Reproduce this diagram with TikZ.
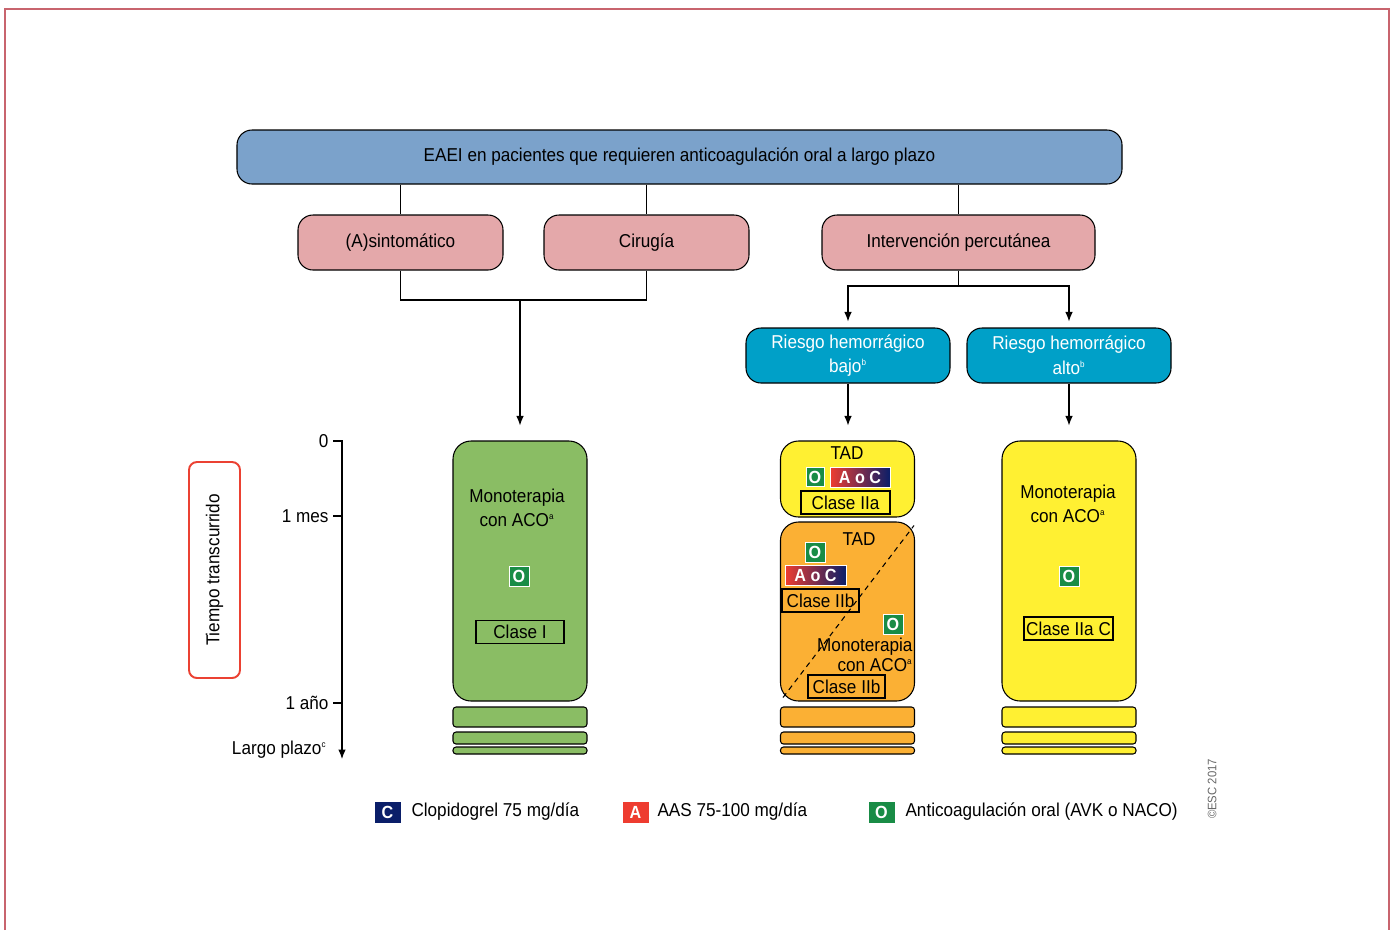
\documentclass[tikz,border=0pt]{standalone}
\usepackage{fontspec}
\setmainfont{Liberation Sans}[FakeStretch=0.92]
\usepackage{xcolor}
\usetikzlibrary{shapes,arrows,arrows.meta,positioning,calc}

\definecolor{topblue}{RGB}{123,162,203}
\definecolor{pinkbox}{RGB}{228,168,170}
\definecolor{riskblue}{RGB}{0,160,200}
\definecolor{greencol}{RGB}{138,189,100}
\definecolor{yellowcol}{RGB}{255,240,50}
\definecolor{orangecol}{RGB}{251,176,52}
\definecolor{navyC}{RGB}{10,30,105}
\definecolor{redA}{RGB}{238,60,48}
\definecolor{greenO}{RGB}{25,140,70}
\definecolor{framered}{RGB}{200,100,110}
\definecolor{timered}{RGB}{235,65,50}

\newcommand{\supr}[1]{\textsuperscript{\tiny #1}}

\tikzset{
  box/.style={draw, rounded corners=3mm, inner sep=0pt, align=center, line width=0.6pt},
  head/.style={box, fill=topblue, minimum width=177mm, minimum height=10.8mm},
  group/.style={box, fill=pinkbox, minimum width=41mm, minimum height=11mm},
  risk/.style={box, fill=riskblue, text=white, minimum width=40.8mm, minimum height=11mm},
  column/.style={draw, rounded corners=3.6mm, inner sep=0pt, minimum width=26.8mm, line width=0.6pt},
  stripe/.style={draw, rounded corners=0.6mm, inner sep=0pt, minimum width=26.8mm, line width=0.6pt},
  clase/.style={draw, inner sep=0pt, minimum height=4.6mm, line width=0.6pt},
  badge/.style={draw=white, line width=0.3pt, text=white, font=\bfseries, inner sep=0pt, minimum width=4mm, minimum height=4mm},
  keybadge/.style={badge, minimum width=5.4mm, minimum height=4.4mm},
  aoc/.style={badge, left color=redA, right color=navyC, minimum width=12mm},
  txt/.style={inner sep=0pt, align=center},
}

\begin{document}
\begin{tikzpicture}[x=0.2mm, y=-0.2mm, >={Latex[length=1.9mm,width=1.5mm]}, line width=0.6pt, font=\fontsize{10.6}{14}\selectfont]
    \useasboundingbox (0,0) rectangle (1395,930);
    % Frame
    \draw[framered, line width=1pt] (5,930) -- (5,9) -- (1389,9) -- (1389,930);

    % Top
    \node[head] (eaei) at (679.5,157) {EAEI en pacientes que requieren anticoagulación oral a largo plazo};

    % Groups
    \node[group] (asin) at (400.5,242.5) {(A)sintomático};
    \node[group] (cir) at (646.5,242.5) {Cirugía};
    \node[group, minimum width=54.6mm] (perc) at (958.5,242.5) {Intervención percutánea};

    % Bleeding risk
    \node[risk] (bajo) at (848,355.5) {Riesgo hemorrágico\\bajo\supr{b}};
    \node[risk] (alto) at (1069,355.5) {Riesgo hemorrágico\\alto\supr{b}};

    % Columns
    \node[column, fill=greencol, minimum height=52mm] (gcol) at (520,571) {};
    \node[column, fill=yellowcol, minimum height=15.2mm] (ytad) at (847.5,479) {};
    \node[column, fill=orangecol, minimum height=35.8mm] (otad) at (847.5,611.5) {};
    \node[column, fill=yellowcol, minimum height=52mm] (ycol) at (1069,571) {};

    % Long term stripes
    \foreach \n/\x/\f in {g/520/greencol, o/847.5/orangecol, y/1069/yellowcol} {
        \node[stripe, fill=\f, minimum height=4mm] (\n s1) at (\x,717) {};
        \node[stripe, fill=\f, minimum height=2.4mm] (\n s2) at (\x,738) {};
        \node[stripe, fill=\f, minimum height=1.4mm] (\n s3) at (\x,750.5) {};
    }

    % Green column
    \node[txt] (gtxt) at (517,508) {Monoterapia\\con ACO\supr{a}};
    \node[badge, fill=greenO] (go) at (519,576) {O};
    \node[clase, minimum width=17.6mm] (gcl) at (520,632) {Clase I};

    % Middle column
    \draw[dash pattern=on 3pt off 2.5pt] ([shift={(3,-4)}]otad.south west) -- ([shift={(-1,4)}]otad.north east);
    \node[txt] (tad1) at (847,453) {TAD};
    \node[badge, fill=greenO, minimum width=3.6mm, minimum height=3.8mm] (o1) at (815,477) {O};
    \node[aoc] (aoc1) at (860,477) {A o C};
    \node[clase, minimum width=17.8mm] (cl1) at (845.5,502.5) {Clase IIa};
    \node[txt] (tad2) at (859,539) {TAD};
    \node[badge, fill=greenO] (o2) at (815,552) {O};
    \node[aoc, minimum width=12.2mm] (aoc2) at (815.5,575) {A o C};
    \node[clase, minimum width=15.4mm] (cl2) at (820.5,600.5) {Clase IIb};
    \node[badge, fill=greenO] (o3) at (893,624) {O};
    \node[txt, anchor=east, align=right, font=\fontsize{10.6}{11.5}\selectfont] (mono2) at (913,655) {Monoterapia\\con ACO\supr{a}};
    \node[clase, minimum width=15.4mm] (cl3) at (846.5,686.5) {Clase IIb};

    % Right column
    \node[txt] (ytxt) at (1068,504) {Monoterapia\\con ACO\supr{a}};
    \node[badge, fill=greenO] (yo) at (1069,576) {O};
    \node[clase, minimum width=17.8mm] (ycl) at (1068.5,628.5) {Clase IIa C};

    % Connections
    \draw (eaei.south -| asin) -- (asin);
    \draw (eaei.south -| cir) -- (cir);
    \draw (eaei.south -| perc) -- (perc);
    \coordinate (j1) at (520,300);
    \draw (asin) |- (j1) -| (cir);
    \draw[->, shorten >=3mm] (j1) -- (gcol);
    \coordinate (j2) at (958.5,286);
    \draw (perc) -- (j2);
    \draw[->, shorten >=1.2mm] (j2) -| (bajo);
    \draw[->, shorten >=1.2mm] (j2) -| (alto);
    \draw[->, shorten >=3mm] (bajo) -- (bajo |- ytad.north);
    \draw[->, shorten >=3mm] (alto) -- (alto |- ycol.north);

    % Time axis
    \node[draw=timered, line width=1.1pt, rounded corners=1.6mm, minimum width=43.2mm, minimum height=10.2mm, inner sep=0pt, rotate=90] (tiempo) at (214.5,570) {Tiempo transcurrido};
    \coordinate (ax0) at (342,440);
    \coordinate (ax1) at (342,759);
    \draw[->] (ax0) -- (ax1);
    \foreach \y/\n/\l in {441/t0/0, 516/t1/1 mes, 703/t2/1 año} {
        \draw (333,\y) -- (342,\y);
        \node[anchor=east, inner sep=0pt] (\n) at (329,\y) {\l};
    }
    \node[anchor=east, inner sep=0pt] (tlp) at (327,750) {Largo plazo\supr{c}};

    % Legend
    \node[keybadge, fill=navyC] (kc) at (387.5,812) {C};
    \node[anchor=west, inner sep=0pt] (kct) at (411,812) {Clopidogrel 75 mg/día};
    \node[keybadge, fill=redA] (ka) at (635.5,812) {A};
    \node[anchor=west, inner sep=0pt] (kat) at (657,812) {AAS 75-100 mg/día};
    \node[keybadge, fill=greenO] (ko) at (881.5,812) {O};
    \node[anchor=west, inner sep=0pt] (kot) at (905,812) {Anticoagulación oral (AVK o NACO)};
    \node[rotate=90, text=black!60, font=\fontsize{7}{8}\selectfont] (esc) at (1212,789) {©ESC 2017};
\end{tikzpicture}
\end{document}
